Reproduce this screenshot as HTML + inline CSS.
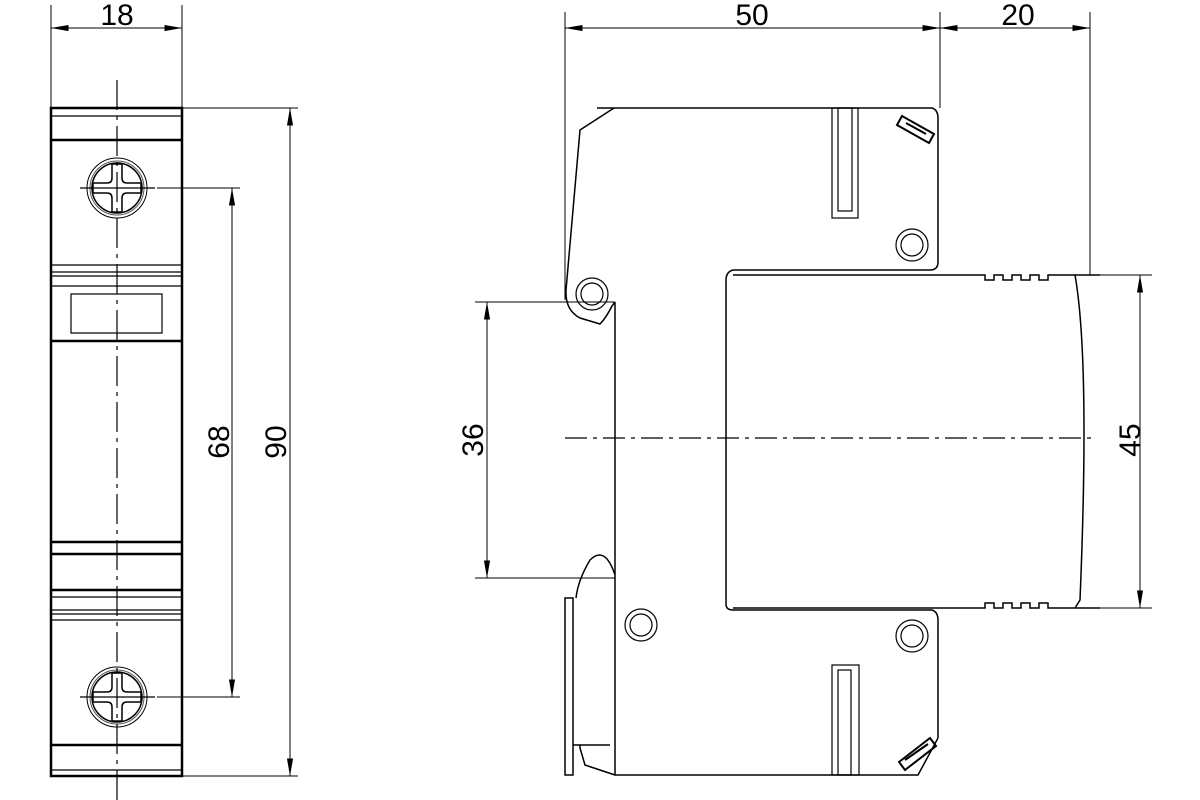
<!DOCTYPE html>
<html><head><style>body{margin:0;background:#fff}svg{display:block}</style></head><body>
<svg width="1200" height="800" viewBox="0 0 1200 800" xmlns="http://www.w3.org/2000/svg" font-family="Liberation Sans, sans-serif">
<defs>
<marker id="a" viewBox="0 0 20 8" refX="20" refY="4" markerWidth="20" markerHeight="7" orient="auto-start-reverse" markerUnits="userSpaceOnUse"><path d="M0,0.5 L20,4 L0,7.5 Z" fill="#000" stroke="none"/></marker>
<g id="screw">
<circle r="30" fill="none" stroke="#000" stroke-width="1"/>
<circle r="27" fill="none" stroke="#555" stroke-width="1"/>
<circle r="25" fill="none" stroke="#000" stroke-width="1.5"/>
<path d="M-5,-24 H5 V-10 Q5,-5 10,-5 H24 V5 H10 Q5,5 5,10 V24 H-5 V10 Q-5,5 -10,5 H-24 V-5 H-10 Q-5,-5 -5,-10 Z" fill="none" stroke="#000" stroke-width="1.5"/>
</g>
</defs>
<g stroke="#000" fill="none">
<rect x="51" y="108" width="131" height="668" stroke-width="2.5"/>
<g stroke-width="1.2">
<line x1="51" y1="116" x2="182" y2="116"/>
<line x1="51" y1="265" x2="182" y2="265"/>
<line x1="51" y1="272" x2="182" y2="272"/>
<line x1="51" y1="276" x2="182" y2="276"/>
<line x1="51" y1="286" x2="182" y2="286"/>
<rect x="71" y="294" width="91" height="39"/>
<line x1="51" y1="597" x2="182" y2="597"/>
<line x1="51" y1="610" x2="182" y2="610"/>
<line x1="51" y1="614" x2="182" y2="614"/>
<line x1="51" y1="620" x2="182" y2="620"/>
<line x1="51" y1="770" x2="182" y2="770"/>
</g>
<g stroke-width="2.5">
<line x1="51" y1="140" x2="182" y2="140"/>
<line x1="51" y1="341" x2="182" y2="341"/>
<line x1="51" y1="542" x2="182" y2="542"/>
<line x1="51" y1="554" x2="182" y2="554"/>
<line x1="51" y1="590" x2="182" y2="590"/>
<line x1="51" y1="745" x2="182" y2="745"/>
</g>
<use href="#screw" x="117" y="188"/>
<use href="#screw" x="117" y="697"/>
<line x1="117" y1="80" x2="117" y2="800" stroke-width="1.2" stroke-dasharray="30,6,4,6"/>
<line x1="80" y1="188" x2="155" y2="188" stroke-width="1.2"/>
<line x1="80" y1="697" x2="155" y2="697" stroke-width="1.2"/>
<g stroke-width="1">
<line x1="51" y1="5" x2="51" y2="108"/><line x1="182" y1="5" x2="182" y2="108"/>
<line x1="51" y1="28" x2="182" y2="28" marker-start="url(#a)" marker-end="url(#a)"/>
<line x1="182" y1="108" x2="298" y2="108"/><line x1="182" y1="776" x2="298" y2="776"/>
<line x1="290" y1="108" x2="290" y2="776" marker-start="url(#a)" marker-end="url(#a)"/>
<line x1="157" y1="188" x2="240" y2="188"/><line x1="157" y1="697" x2="240" y2="697"/>
<line x1="232" y1="188" x2="232" y2="697" marker-start="url(#a)" marker-end="url(#a)"/>
</g>
<g stroke-width="1.5">
<path d="M597,108 H932 Q938,110 938,118 V262 Q938,270 930,270 H733 Q726,272 726,280 V604 Q726,610 733,610 H932 Q938,612 938,620 V738"/>
<path d="M614,108 L580,130 L566,290 Q565,310 580,318 L600,324 Q606,318 612,306 L615,302"/>
<path d="M615,302 V575 Q605,545 590,560 Q578,580 576,598"/>
<path d="M615,575 V775 H890"/>
<path d="M615,775 L585,765 L580,748 V745 H610"/>
<rect x="565" y="598" width="8" height="177"/>
<line x1="573" y1="745" x2="580" y2="745"/>
<path d="M733,275 H985 V280 H994 V275 H1003 V280 H1012 V275 H1021 V280 H1030 V275 H1039 V280 H1048 V275 H1075 Q1090,360 1080,600 L1075,608 H1048 V603 H1039 V608 H1030 V603 H1021 V608 H1012 V603 H1003 V608 H994 V603 H985 V608 H733"/>
<line x1="1075" y1="275" x2="1100" y2="275"/>
<line x1="1075" y1="608" x2="1100" y2="608"/>
<path d="M938,738 L918,775 H890"/>
</g>
<g stroke-width="1.2">
<circle cx="592" cy="294" r="16"/><circle cx="592" cy="294" r="11"/>
<circle cx="912" cy="245" r="16"/><circle cx="912" cy="245" r="11"/>
<circle cx="641" cy="625" r="16"/><circle cx="641" cy="625" r="11"/>
<circle cx="912" cy="636" r="16"/><circle cx="912" cy="636" r="11"/>
<rect x="832" y="108" width="26" height="110"/><rect x="838" y="108" width="14" height="103"/>
<rect x="832" y="665" width="27" height="110"/><rect x="838" y="670" width="13" height="105"/>
</g>
<g stroke-width="2">
<path d="M902,116 L934,134 L929,143 L897,125 Z"/>
<path d="M906,123 L926,134"/>
<path d="M899,762 L930,738 L936,746 L905,770 Z"/>
<path d="M905,760 L928,744"/>
</g>
<line x1="565" y1="438" x2="1095" y2="438" stroke-width="1.2" stroke-dasharray="22,6,4,6"/>
<g stroke-width="1">
<line x1="565" y1="12" x2="565" y2="300"/>
<line x1="940" y1="12" x2="940" y2="108"/>
<line x1="1090" y1="12" x2="1090" y2="275"/>
<line x1="565" y1="28" x2="940" y2="28" marker-start="url(#a)" marker-end="url(#a)"/>
<line x1="940" y1="28" x2="1090" y2="28" marker-start="url(#a)" marker-end="url(#a)"/>
<line x1="475" y1="302" x2="615" y2="302"/>
<line x1="475" y1="578" x2="615" y2="578"/>
<line x1="487" y1="302" x2="487" y2="578" marker-start="url(#a)" marker-end="url(#a)"/>
<line x1="1100" y1="275" x2="1152" y2="275"/>
<line x1="1100" y1="608" x2="1152" y2="608"/>
<line x1="1140" y1="275" x2="1140" y2="608" marker-start="url(#a)" marker-end="url(#a)"/>
</g>
</g>
<g font-size="30" fill="#000" text-anchor="middle">
<text x="117" y="25">18</text>
<text x="752" y="25">50</text>
<text x="1018" y="25">20</text>
<text transform="translate(229,442) rotate(-90)">68</text>
<text transform="translate(286,442) rotate(-90)">90</text>
<text transform="translate(483,440) rotate(-90)">36</text>
<text transform="translate(1140,440) rotate(-90)">45</text>
</g>
</svg>
</body></html>
